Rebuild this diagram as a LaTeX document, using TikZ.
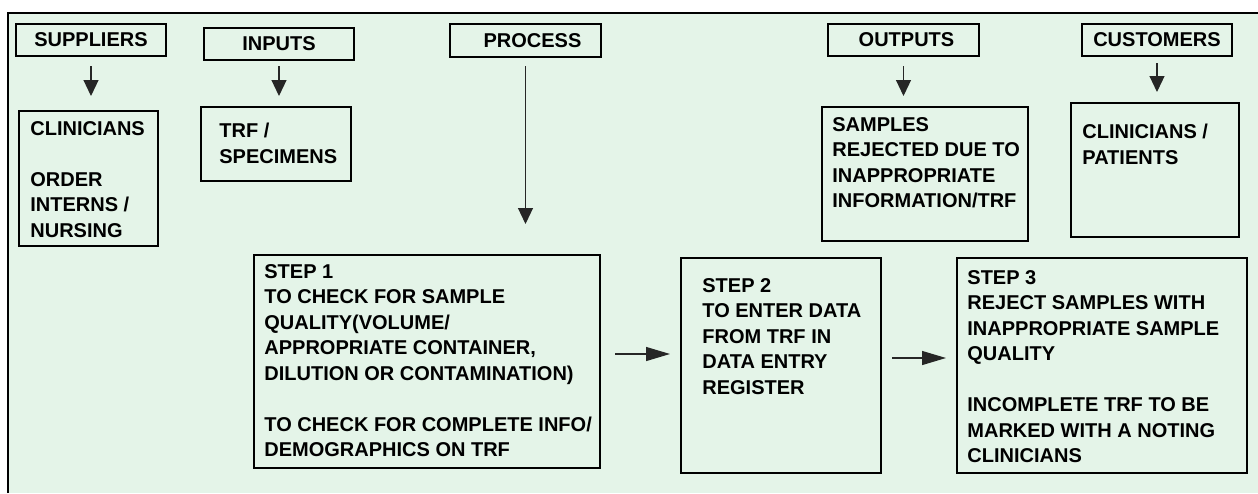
\documentclass[tikz,border=0pt]{standalone}
\usepackage{fontspec}
\setmainfont{Liberation Sans}
\usetikzlibrary{arrows.meta}
\definecolor{sheetGreen}{RGB}{228,244,232}
\begin{document}
\begin{tikzpicture}[
        x=0.5pt, y=-0.5pt,
        headNode/.style={
            rectangle,
            draw,
            line width=1pt,
            inner sep=0pt,
            font=\fontsize{10}{12.75}\selectfont\bfseries
        },
        boxNode/.style={
            rectangle,
            draw,
            line width=1pt,
            inner sep=0pt
        },
        textNode/.style={
            anchor=north west,
            inner sep=0pt,
            align=left,
            font=\fontsize{10}{12.75}\selectfont\bfseries
        },
        arrowLine/.style={
            -{Triangle[length=8pt,width=7.5pt]},
            line width=0.6pt,
            draw=black!85
        },
        flowLine/.style={
            -{Triangle[length=12pt,width=7pt]},
            line width=0.6pt,
            draw=black!85
        }
    ]
        \useasboundingbox (0,0) rectangle (1258,493);
        \fill[sheetGreen] (8,13) rectangle (1258,493);
        \draw[line width=1pt] (8,493) -- (8,13) -- (1258,13);

        \node[headNode, minimum width=75pt, minimum height=16pt] (sup) at (91,40) {SUPPLIERS};
        \node[headNode, minimum width=75pt, minimum height=16pt] (inp) at (279,44) {INPUTS};
        \node[headNode, minimum width=75.5pt, minimum height=16.5pt] (proc) at (525.5,40.5) {\hspace{7pt}PROCESS};
        \node[headNode, minimum width=75.5pt, minimum height=16pt] (outp) at (903.5,40) {\hspace{3pt}OUTPUTS};
        \node[headNode, minimum width=75pt, minimum height=16pt] (cust) at (1157,40) {CUSTOMERS};

        \node[boxNode, minimum width=69.5pt, minimum height=67.5pt] (cli) at (88.5,178.5) {};
        \node[boxNode, minimum width=75pt, minimum height=37pt] (trf) at (276,144) {};
        \node[boxNode, minimum width=103pt, minimum height=67pt] (rej) at (925,174) {};
        \node[boxNode, minimum width=84pt, minimum height=67pt] (pat) at (1155,170) {};

        \node[boxNode, minimum width=173pt, minimum height=106.5pt] (step1) at (427,361.5) {};
        \node[boxNode, minimum width=100pt, minimum height=107.5pt] (step2) at (781,365.5) {};
        \node[boxNode, minimum width=145pt, minimum height=107.5pt] (step3) at (1102,365.5) {};

        \node[textNode] (cliText) at ([shift={(12,11)}]cli.north west)
            {CLINICIANS\\[12.75pt]ORDER\\INTERNS /\\NURSING};
        \node[textNode] (trfText) at ([shift={(19,17)}]trf.north west)
            {TRF /\\SPECIMENS};
        \node[textNode] (rejText) at ([shift={(11,11)}]rej.north west)
            {SAMPLES\\REJECTED DUE TO\\INAPPROPRIATE\\INFORMATION/TRF};
        \node[textNode] (patText) at ([shift={(12,22)}]pat.north west)
            {CLINICIANS /\\PATIENTS};
        \node[textNode] (step1Text) at ([shift={(11,10)}]step1.north west)
            {STEP 1\\TO CHECK FOR SAMPLE\\QUALITY(VOLUME/\\APPROPRIATE CONTAINER,\\DILUTION OR CONTAMINATION)\\[12.75pt]TO CHECK FOR COMPLETE INFO/\\DEMOGRAPHICS ON TRF};
        \node[textNode] (step2Text) at ([shift={(22,21)}]step2.north west)
            {STEP 2\\TO ENTER DATA\\FROM TRF IN\\DATA ENTRY\\REGISTER};
        \node[textNode] (step3Text) at ([shift={(11,13)}]step3.north west)
            {STEP 3\\REJECT SAMPLES WITH\\INAPPROPRIATE SAMPLE\\QUALITY\\[12.75pt]INCOMPLETE TRF TO BE\\MARKED WITH A NOTING\\CLINICIANS};

        \draw[arrowLine, shorten <=4.5pt, shorten >=7pt] (sup.south) -- (sup.south |- cli.north);
        \draw[arrowLine, shorten <=2.5pt, shorten >=5pt] (inp.south) -- (inp.south |- trf.north);
        \draw[arrowLine, shorten <=4pt, shorten >=15pt] (proc.south) -- (proc.south |- step1.north);
        \draw[arrowLine, shorten <=4.5pt, shorten >=5pt] (outp.south) -- (outp.south |- rej.north);
        \draw[arrowLine, shorten <=3pt, shorten >=5pt] (cust.south) -- (cust.south |- pat.north);

        \draw[flowLine, shorten <=7pt, shorten >=5pt] ([yshift=3.75pt]step1.east) -- ([yshift=3.75pt]step1.east -| step2.west);
        \draw[flowLine, shorten <=5pt, shorten >=5pt] ([yshift=3.75pt]step2.east) -- ([yshift=3.75pt]step2.east -| step3.west);

    \end{tikzpicture}
\end{document}
